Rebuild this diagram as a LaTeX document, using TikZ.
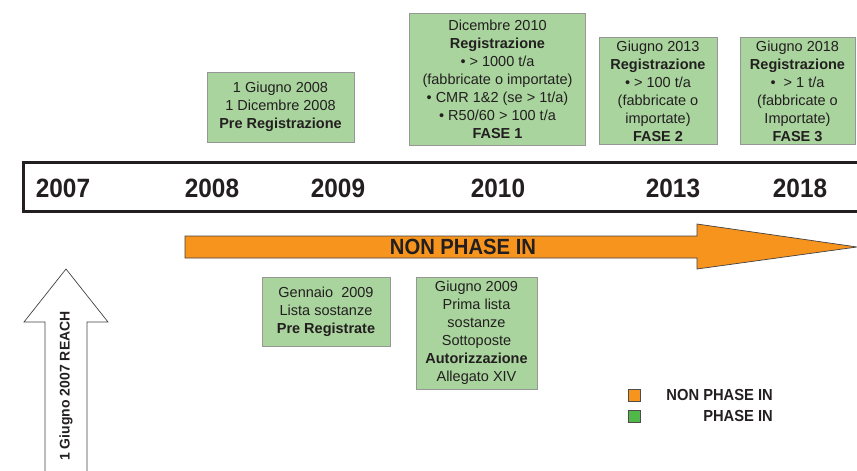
\documentclass[tikz,border=0pt]{standalone}
\usepackage{fontspec}
\setmainfont{Liberation Sans}
\newfontfamily\condbold[FakeStretch=0.92]{Liberation Sans Bold}
\definecolor{boxgreen}{RGB}{169,212,157}
\definecolor{boxborder}{RGB}{150,150,150}
\definecolor{arroworange}{RGB}{247,148,30}
\definecolor{legendgreen}{RGB}{80,184,72}
\definecolor{ink}{RGB}{35,31,32}
\tikzset{
  infobox/.style={draw=boxborder, line width=0.8pt, fill=boxgreen, inner sep=0pt,
    align=center, text=ink, font=\fontsize{14.5}{18}\selectfont},
  yearlabel/.style={font=\condbold\fontsize{26.5}{28}\selectfont, text=ink, inner sep=0pt},
  legendlabel/.style={font=\condbold\fontsize{16}{18}\selectfont, text=ink, inner sep=0pt, anchor=east},
  legendsq/.style={draw=ink!80, line width=0.6pt, minimum size=12pt, inner sep=0pt}
}
\begin{document}
\begin{tikzpicture}[x=1pt,y=-1pt]
\useasboundingbox (0,0) rectangle (857,471);
% timeline band
\draw[line width=2.4pt, ink] (858,162.5) -- (23.5,162.5) -- (23.5,211.5) -- (858,211.5);
\node[yearlabel] (y2007) at (63,188) {2007};
\node[yearlabel] (y2008) at (212,188) {2008};
\node[yearlabel] (y2009) at (338,188) {2009};
\node[yearlabel] (y2010) at (498,188) {2010};
\node[yearlabel] (y2013) at (673,188) {2013};
\node[yearlabel] (y2018) at (800,188) {2018};
% orange arrow
\draw[fill=arroworange, draw=ink!85, line width=0.7pt]
  (185,236) -- (697,236) -- (697,224) -- (857,247) -- (697,269) -- (697,258) -- (185,258) -- cycle;
\node[font=\condbold\fontsize{22}{24}\selectfont, text=ink, inner sep=0pt] (nonphase) at (463,247) {NON PHASE IN};
% top boxes
\node[infobox, minimum width=147pt, minimum height=70pt] (b1) at (280.5,107)
  {1 Giugno 2008\\ 1 Dicembre 2008\\ \textbf{Pre Registrazione}};
\node[infobox, minimum width=176pt, minimum height=132pt] (b2) at (497.5,79)
  {Dicembre 2010\\ \textbf{Registrazione}\\ • > 1000 t/a\\ (fabbricate o importate)\\ • CMR 1\&2 (se > 1t/a)\\ • R50/60 > 100 t/a\\ \textbf{FASE 1}};
\node[infobox, minimum width=118pt, minimum height=107pt] (b3) at (658,91)
  {Giugno 2013\\ \textbf{Registrazione}\\ • > 100 t/a\\ (fabbricate o\\ importate)\\ \textbf{FASE 2}};
\node[infobox, minimum width=115pt, minimum height=107pt] (b4) at (797.5,91)
  {Giugno 2018\\ \textbf{Registrazione}\\ •\ \ > 1 t/a\\ (fabbricate o\\ Importate)\\ \textbf{FASE 3}};
% bottom boxes
\node[infobox, minimum width=128pt, minimum height=69pt] (b5) at (326,311.5)
  {Gennaio\ \ 2009\\ Lista sostanze\\ \textbf{Pre Registrate}};
\node[infobox, minimum width=121pt, minimum height=112pt] (b6) at (476.5,333)
  {Giugno 2009\\ Prima lista\\ sostanze\\ Sottoposte\\ \textbf{Autorizzazione}\\ Allegato XIV};
% left white arrow
\draw[fill=white, draw=ink!85, line width=0.7pt]
  (45,472) -- (45,322) -- (24,322) -- (66,269) -- (108,322) -- (87,322) -- (87,472);
\node[rotate=90, font=\bfseries\fontsize{14}{16}\selectfont, text=ink, inner sep=0pt] (reach) at (66,386) {1 Giugno 2007 REACH};
% legend
\node[legendsq, fill=arroworange] (sqnon) at (634,395) {};
\node[legendsq, fill=legendgreen] (sqin) at (634,416) {};
\node[legendlabel] (lnon) at (773,395) {NON PHASE IN};
\node[legendlabel] (lin) at (773,416) {PHASE IN};
\end{tikzpicture}
\end{document}
